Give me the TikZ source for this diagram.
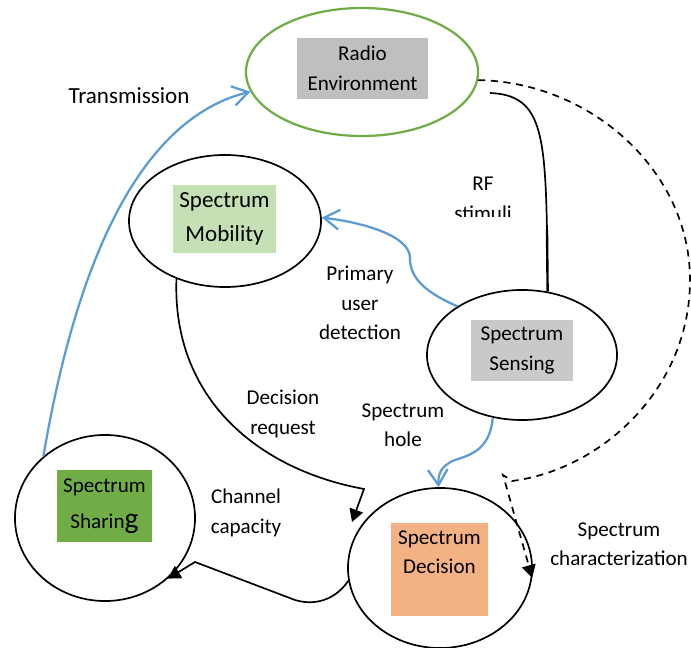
\documentclass[tikz,border=0pt]{standalone}
\usepackage{fontspec}
\setmainfont{Carlito}
\usetikzlibrary{shapes.geometric,arrows.meta}
\definecolor{envgreen}{HTML}{70AD47}
\definecolor{mobgreen}{HTML}{C5E0B4}
\definecolor{envgray}{HTML}{BFBFBF}
\definecolor{sensgray}{HTML}{C9C9C9}
\definecolor{decorange}{HTML}{F4B183}
\definecolor{flowblue}{HTML}{5B9BD5}
\begin{document}
\begin{tikzpicture}[x=0.025cm,y=-0.025cm,
  every node/.style={font=\fontsize{15}{21}\selectfont},
  stage/.style={draw=black,line width=1.2pt,ellipse,inner sep=0pt},
  box/.style={rectangle,align=center,inner sep=0pt},
  tag/.style={align=center,inner sep=0pt},
  blueflow/.style={draw=flowblue,line width=1.6pt,-{Straight Barb[length=11pt,width=14pt]}},
  blackflow/.style={line width=1.2pt,-{Triangle[length=9pt,width=10pt]}}]
\useasboundingbox (0,0) rectangle (691,648);
% the five stages of the cycle
\node[stage,draw=envgreen,line width=1.6pt,minimum width=5.8cm,minimum height=3.2cm] (radio) at (362,72) {};
\node[stage,minimum width=4.8cm,minimum height=3.3cm] (mobility) at (225,221) {};
\node[stage,minimum width=4.75cm,minimum height=3.25cm] (sensing) at (522,355) {};
\node[stage,minimum width=4.5cm,minimum height=4.15cm] (sharing) at (105,518) {};
\node[stage,minimum width=4.6cm,minimum height=4cm] (decision) at (440,568) {};
% coloured boxes
\node[box,fill=envgray,minimum width=3.275cm,minimum height=1.525cm] (radiobox) at (362.5,68.5) {Radio\\Environment};
\node[box,fill=mobgreen,minimum width=2.575cm,minimum height=1.7cm,font=\fontsize{16.4}{24}\selectfont] (mobbox) at (224.5,219) {Spectrum\\Mobility};
\node[box,fill=sensgray,minimum width=2.55cm,minimum height=1.525cm] (sensbox) at (522,350.5) {Spectrum\\Sensing};
\node[box,fill=envgreen,minimum width=2.375cm,minimum height=1.8cm] (sharebox) at (104.5,506) {Spectrum\\[5pt]Sharin{\fontsize{21}{21}\selectfont g}};
\node[box,fill=decorange,minimum width=2.425cm,minimum height=2.325cm] (decbox) at (439.5,569.5) {};
\node[tag] (dectext) at (439.5,552) {Spectrum\\Decision};
% labels
\node[tag,font=\fontsize{16.4}{21}\selectfont] (translabel) at (129,96) {Transmission};
\begin{scope}
\clip (430,160) rectangle (540,217);
\node[tag] (rflabel) at (483,199) {RF\\stimuli};
\end{scope}
\node[tag] (pudlabel) at (360,303) {Primary\\user\\detection};
\node[tag] (reqlabel) at (283,414) {Decision\\request};
\node[tag] (holelabel) at (403,425) {Spectrum\\hole};
\node[tag] (chanlabel) at (246,513) {Channel\\capacity};
\node[tag] (charlabel) at (619,544) {Spectrum\\characterization};
% connectors
\coordinate (rfstart) at (490,93);
\coordinate (rfbend) at (547,230);
\coordinate (charturn) at (503,475);
\coordinate (reqturn) at (364,489);
\coordinate (reqend) at (352,522);
\coordinate (chanturn) at (195,562);
\draw[blueflow] (sharing.135) .. controls (65,330) and (115,125) .. (radio.190);
\draw[blueflow] (sensing.143) .. controls (420,290) and (410,275) .. (410,258) .. controls (410,235) and (360,222) .. (mobility.2);
\draw[blueflow] (sensing.245) .. controls (490,450) and (470,455) .. (455,460) .. controls (440,466) and (438,475) .. (decision.91);
\draw[line width=1.2pt] (rfstart) .. controls (540,95) and (545,130) .. (rfbend);
\draw[line width=1.7pt] (rfbend) -- (sensing.68);
\draw[blackflow,dash pattern=on 5pt off 4pt] (radio.-4) .. controls (590,82) and (690,170) .. (690,280) .. controls (690,390) and (600,470) .. (512,481) -- (charturn) -- (decision.-6);
\draw[blackflow] (mobility.230) .. controls (172,400) and (260,470) .. (reqturn) -- (reqend);
\draw[blackflow] (decision.188) .. controls (335,600) and (315,606) .. (295,600) -- (chanturn) -- (sharing.-44);
\end{tikzpicture}
\end{document}
